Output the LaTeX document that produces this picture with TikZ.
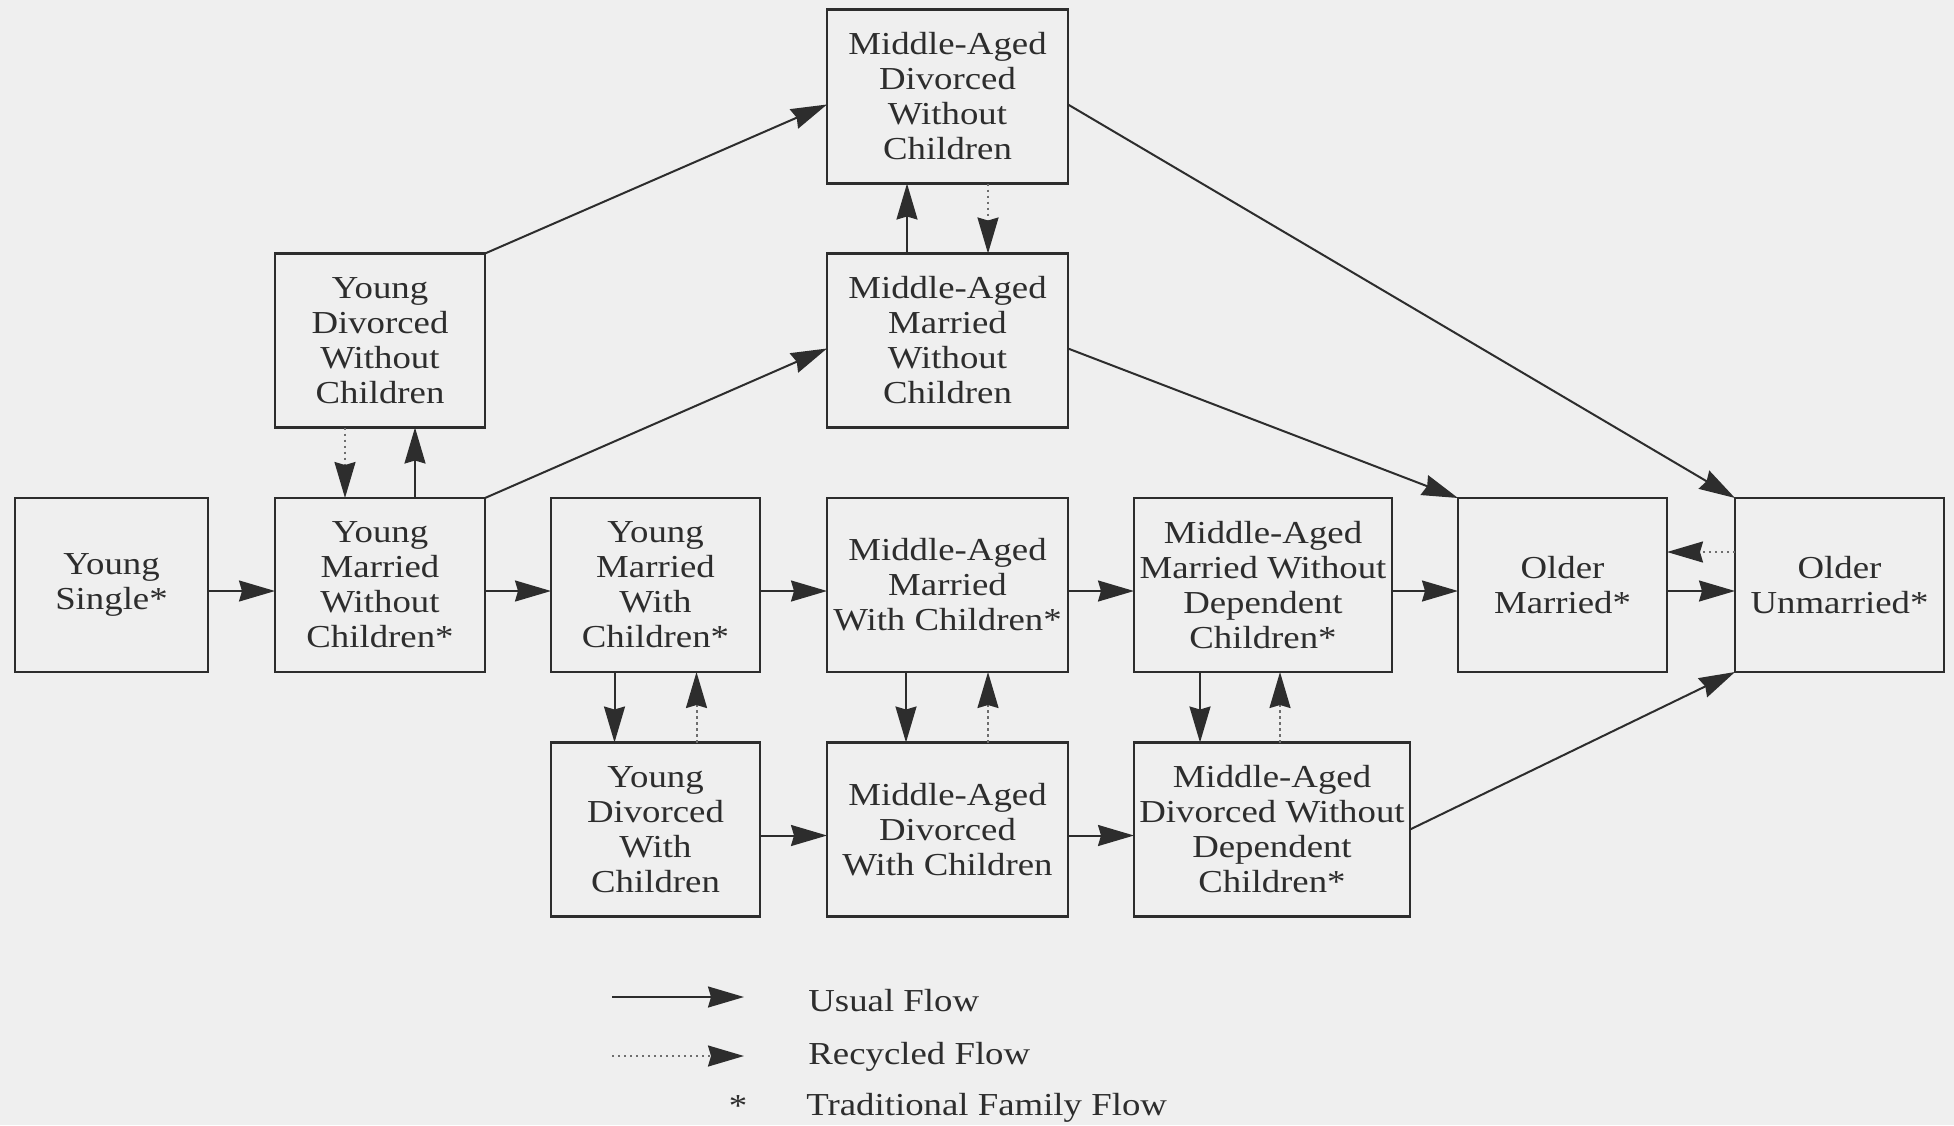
\documentclass[tikz,border=0pt]{standalone}
\usepackage{fontspec}
\setmainfont{Liberation Serif}[FakeStretch=1.15]
\usetikzlibrary{arrows.meta,calc}
\definecolor{paper}{RGB}{239,239,239}
\definecolor{ink}{RGB}{45,45,45}
\definecolor{dots}{RGB}{110,110,110}
\begin{document}
\begin{tikzpicture}[x=0.5pt,y=-0.5pt,
  stage/.style={draw=ink, line width=1.2pt, fill=paper, inner sep=0pt,
    outer sep=0pt, align=center, text=ink, minimum height=87pt,
    font=\fontsize{16}{17.5}\selectfont},
  tip/.style={-{Stealth[length=18pt,width=10.5pt,inset=1.5pt,color=ink]}},
  flow/.style={tip, draw=ink, line width=1pt},
  recycle/.style={tip, draw=dots, line width=1pt, dash pattern=on 1.2pt off 1.8pt},
  legendtext/.style={anchor=west, inner sep=0pt, text=ink,
    font=\fontsize{16}{17.5}\selectfont}]

% page
\path[use as bounding box, fill=paper] (0,0) rectangle (1954,1125);

% life-cycle stages
\node[stage, minimum width=96.5pt] (YS)    at (111.5,585)  {Young\\Single*};
\node[stage, minimum width=105pt]  (YMWC)  at (380,585)    {Young\\Married\\Without\\Children*};
\node[stage, minimum width=105pt]  (YDWC)  at (380,340.5)  {Young\\Divorced\\Without\\Children};
\node[stage, minimum width=104.5pt] (YMC)  at (655.5,585)  {Young\\Married\\With\\Children*};
\node[stage, minimum width=104.5pt] (YDC)  at (655.5,829.5) {Young\\Divorced\\With\\Children};
\node[stage, minimum width=120.5pt] (MADW) at (947.5,96.5) {Middle-Aged\\Divorced\\Without\\Children};
\node[stage, minimum width=120.5pt] (MAMW) at (947.5,340.5) {Middle-Aged\\Married\\Without\\Children};
\node[stage, minimum width=120.5pt] (MAMC) at (947.5,585)  {Middle-Aged\\Married\\With Children*};
\node[stage, minimum width=120.5pt] (MADC) at (947.5,829.5) {Middle-Aged\\Divorced\\With Children};
\node[stage, minimum width=129pt]  (MAMWD) at (1263,585)   {Middle-Aged\\Married Without\\Dependent\\Children*};
\node[stage, minimum width=138pt]  (MADWD) at (1272,829.5) {Middle-Aged\\Divorced Without\\Dependent\\Children*};
\node[stage, minimum width=104.5pt] (OM)   at (1562.5,585) {Older\\Married*};
\node[stage, minimum width=104.5pt] (OU)   at (1839.5,585) {Older\\Unmarried*};

% usual flow, left to right
\draw[flow] ($(YS.east)+(0,6)$)    -- ($(YMWC.west)+(0,6)$);
\draw[flow] ($(YMWC.east)+(0,6)$)  -- ($(YMC.west)+(0,6)$);
\draw[flow] ($(YMC.east)+(0,6)$)   -- ($(MAMC.west)+(0,6)$);
\draw[flow] ($(MAMC.east)+(0,6)$)  -- ($(MAMWD.west)+(0,6)$);
\draw[flow] ($(MAMWD.east)+(0,6)$) -- ($(OM.west)+(0,6)$);
\draw[flow] ($(OM.east)+(0,6)$)    -- ($(OU.west)+(0,6)$);
\draw[flow] ($(YDC.east)+(0,6)$)   -- ($(MADC.west)+(0,6)$);
\draw[flow] ($(MADC.east)+(0,6)$)  -- ($(MADWD.west)+(0,6)$);

% usual flow, between rows
\draw[flow] ($(YMWC.north)+(35,0)$)   -- ($(YDWC.south)+(35,0)$);
\draw[flow] ($(MAMW.north)+(-40.5,0)$) -- ($(MADW.south)+(-40.5,0)$);
\draw[flow] ($(YMC.south)+(-41,0)$)   -- ($(YDC.north)+(-41,0)$);
\draw[flow] ($(MAMC.south)+(-41.5,0)$) -- ($(MADC.north)+(-41.5,0)$);
\draw[flow] ($(MAMWD.south)+(-63,0)$) -- ($(MADWD.north)+(-72,0)$);

% usual flow, diagonals
\draw[flow] (YMWC.north east) -- ($(MAMW.west)+(0,8)$);
\draw[flow] (YDWC.north east) -- ($(MADW.west)+(0,8)$);
\draw[flow] ($(MADW.east)+(0,8)$) -- (OU.north west);
\draw[flow] ($(MAMW.east)+(0,8)$) -- (OM.north west);
\draw[flow] (MADWD.east) -- (OU.south west);

% recycled flow
\draw[recycle] ($(YDWC.south)+(-35,0)$)  -- ($(YMWC.north)+(-35,0)$);
\draw[recycle] ($(MADW.south)+(40.5,0)$) -- ($(MAMW.north)+(40.5,0)$);
\draw[recycle] ($(YDC.north)+(41,0)$)    -- ($(YMC.south)+(41,0)$);
\draw[recycle] ($(MADC.north)+(40.5,0)$) -- ($(MAMC.south)+(40.5,0)$);
\draw[recycle] ($(MADWD.north)+(8,0)$)   -- ($(MAMWD.south)+(17,0)$);
\draw[recycle] ($(OU.west)+(0,-33)$)     -- ($(OM.east)+(0,-33)$);

% legend
\coordinate (u1) at (612,997);
\coordinate (u2) at (744,997);
\coordinate (r1) at (612,1056);
\coordinate (r2) at (744,1056);
\draw[flow] (u1) -- (u2);
\draw[recycle] (r1) -- (r2);
\node[legendtext] (lu) at (808,1001) {Usual Flow};
\node[legendtext] (lr) at (808,1057) {Recycled Flow};
\node[inner sep=0pt, text=ink, font=\fontsize{16}{17.5}\selectfont] (ls) at (738,1106) {*};
\node[legendtext] (lt) at (806,1108) {Traditional Family Flow};
\end{tikzpicture}
\end{document}
